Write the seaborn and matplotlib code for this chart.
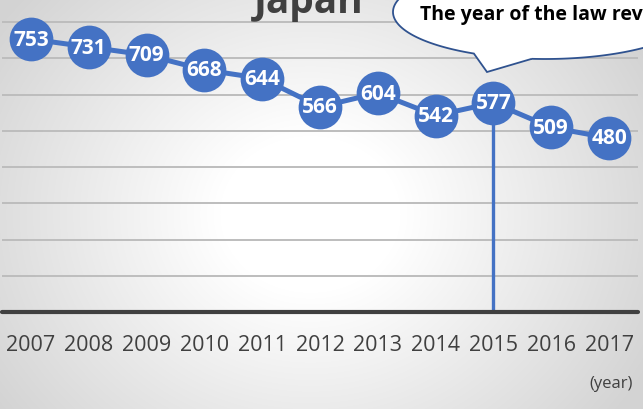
import numpy as np
import pandas as pd
import matplotlib.pyplot as plt
from matplotlib.path import Path
import matplotlib.patches as mpatches
import seaborn as sns

# data
roky = [2007, 2008, 2009, 2010, 2011, 2012, 2013, 2014, 2015, 2016, 2017]
pocty = [753, 731, 709, 668, 644, 566, 604, 542, 577, 509, 480]
rok_revize = 2015
nadpis = "Japan"
text_bubliny = "The year of the law revision"
popis_x = "(year)"

modra = "#4472C4"
seda_text = "#404040"

sns.set_theme(style="white")
plt.rcParams['font.family'] = ['Open Sans', 'DejaVu Sans']

W, H = 643, 410
fig = plt.figure(figsize=(W / 100, H / 100), dpi=100)

# pozadi - radialni prechod
bg = fig.add_axes([0, 0, 1, 1], zorder=0)
yy, xx = np.mgrid[0:H, 0:W]
r = np.hypot(xx - 310, (yy - 215) * 1.15)
hodnota = 1 - 0.17 * np.clip((r - 90) / 290, 0, 1)
bg.imshow(np.dstack([hodnota] * 3), extent=[0, W, H, 0], aspect='auto')
bg.set_axis_off()

# hlavni graf
ax = fig.add_axes([2 / W, 97 / H, 636 / W, 313 / H], zorder=1)
ax.patch.set_alpha(0)
df = pd.DataFrame({'rok': roky, 'pocet': pocty})

ax.vlines(rok_revize, 0, pocty[roky.index(rok_revize)], color=modra, lw=2.4, zorder=2)
sns.lineplot(data=df, x='rok', y='pocet', ax=ax, color=modra, lw=3.6,
             marker='o', markersize=31.5, markeredgewidth=0, zorder=3)
for rok, pocet in zip(roky, pocty):
    ax.text(rok, pocet, str(pocet), ha='center', va='center', color='white',
            fontsize=15, fontweight='bold', zorder=4)

ax.set_xlim(2006.5, 2017.5)
ax.set_ylim(0, 313 / 0.3625)
ax.set_yticks(range(100, 900, 100))
ax.set_yticklabels([])
ax.yaxis.grid(True, color='#bdbdbd', lw=1.4)
ax.set_axisbelow(True)
ax.set_xticks(roky)
ax.set_xticklabels([str(r) for r in roky], fontsize=15.5, color=seda_text)
ax.tick_params(axis='x', length=0, pad=16)
ax.tick_params(axis='y', length=0)
ax.set_xlabel('')
ax.set_ylabel('')
for s in ax.spines.values():
    s.set_visible(False)
ax.axhline(0, color=seda_text, lw=3, clip_on=False, zorder=2.5)

fig.text(309 / W, 1 - 13 / H, nadpis, ha='center', va='baseline', fontsize=28,
         fontweight='bold', color=seda_text)
fig.text(633 / W, 1 - 384 / H, popis_x, ha='right', va='center', fontsize=12,
         color=seda_text)

# bublina s popiskem
ov = fig.add_axes([0, 0, 1, 1], zorder=5)
ov.set_xlim(0, W)
ov.set_ylim(H, 0)
ov.set_axis_off()
ov.patch.set_alpha(0)
cx, cy, rx, ry = 545, 13, 152, 47
t = np.radians(np.linspace(95, 117.9 - 360, 300))
body = list(zip(cx + rx * np.cos(t), cy + ry * np.sin(t)))
body.append((487, 73))
body.append(body[0])
bublina = mpatches.PathPatch(Path(body), facecolor='white', edgecolor='#2F528F', lw=1.3)
ov.add_patch(bublina)
ov.text(420, 20, text_bubliny, ha='left', va='baseline', fontsize=14,
        fontweight='bold', color='black')

fig.savefig('out.png', dpi=100)
